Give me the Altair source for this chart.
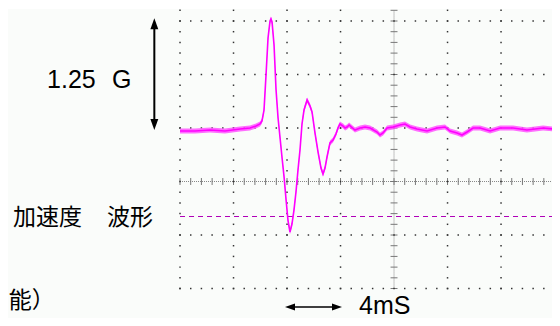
import altair as alt
import pandas as pd
import numpy as np

# ---- waveform: time (ms, trigger at 0) and amplitude (divisions) ----
t_ms = [-16.00, -14.88, -13.76, -12.64, -11.51, -10.77, -10.32, -10.02, -9.87, -9.72,
        -9.57, -9.42, -9.27, -9.20, -9.12, -8.97, -8.82, -8.67, -8.52, -8.37,
        -8.22, -8.07, -7.93, -7.78, -7.63, -7.48, -7.33, -7.18, -7.03, -6.88,
        -6.73, -6.50, -6.28, -6.13, -5.91, -5.68, -5.46, -5.31, -5.16, -5.01,
        -4.79, -4.56, -4.34, -4.19, -4.04, -3.81, -3.66, -3.51, -3.36, -2.92,
        -2.54, -2.17, -1.79, -1.27, -1.05, -0.82, -0.52, -0.07, 0.45, 0.82,
        1.20, 1.72, 2.47, 3.21, 3.81, 4.19, 4.71, 5.08, 5.46, 5.91,
        6.43, 7.18, 7.93, 8.90, 9.94, 11.14, 11.89, 12.41]
amp_div = [0.944, 0.944, 0.963, 0.944, 0.981, 1.000, 1.037, 1.075, 1.131, 1.336,
           1.991, 2.682, 3.000, 3.037, 2.981, 2.551, 1.710, 1.187, 0.813, 0.439,
           0.084, -0.346, -0.720, -0.944, -0.794, -0.533, -0.196, 0.215, 0.589, 1.075,
           1.336, 1.523, 1.411, 1.299, 0.907, 0.551, 0.252, 0.140, 0.252, 0.458,
           0.720, 0.776, 0.888, 1.000, 1.075, 1.037, 1.000, 1.019, 1.056, 0.963,
           1.000, 1.019, 1.000, 0.925, 0.869, 0.907, 1.000, 1.019, 1.056, 1.075,
           1.019, 0.981, 0.944, 1.000, 1.019, 0.944, 0.907, 0.869, 0.925, 1.000,
           1.000, 0.944, 1.000, 1.000, 0.963, 1.000, 0.981, 0.981]

# trigger level (dashed) in divisions
trigger_level = [-0.654]

# screen grid (divisions: 4 ms / div horizontally)
grid_t = [-16, -12, -8, -4, 4, 8, 12]
grid_v = [-2, -1, 1, 2, 3]
screen_t = [-16, 12.41]
screen_v = [-2.0, 3.2]

# annotations
vert_arrow_t = [-17.92]
vert_arrow_v = [0.963, 3.053]
horiz_arrow_v = [-2.346]
horiz_arrow_t = [-8.15, -3.89]

XD = [-28.86, 11.81]
YD = [-2.551, 3.243]
xs = alt.Scale(domain=XD, nice=False, zero=False)
ys = alt.Scale(domain=YD, nice=False, zero=False)


def X(f):
    return alt.X(f, type="quantitative", scale=xs, axis=None)


def Y(f):
    return alt.Y(f, type="quantitative", scale=ys, axis=None)


# background of the screen
bg = alt.Chart(pd.DataFrame({"x": [XD[0]], "x2": [XD[1]], "y": [YD[0]], "y2": [3.225]})).mark_rect(
    color="#fafcfa").encode(x=X("x"), x2="x2", y=Y("y"), y2="y2")

# grid dots
minor = 0.2
dots = []
vsteps = np.round(np.arange(screen_v[0], screen_v[1] + 1e-9, minor), 3)
for gt in grid_t:
    for v in vsteps:
        dots.append({"x": gt, "y": v})
tsteps = np.round(np.arange(screen_t[0], screen_t[1] + 1e-9, minor * 4), 3)
for gv in grid_v:
    for t in tsteps:
        dots.append({"x": t, "y": gv})
dot_layer = alt.Chart(pd.DataFrame(dots)).mark_square(size=2.2, color="#333", opacity=1).encode(
    x=X("x"), y=Y("y"))

# centre lines
center = pd.DataFrame([
    {"x": 0, "x2": 0, "y": screen_v[0], "y2": screen_v[1]},
    {"x": screen_t[0], "x2": screen_t[1], "y": 0, "y2": 0},
])
center_layer = alt.Chart(center).mark_rule(color="#888", strokeWidth=1, strokeDash=[1, 1]).encode(
    x=X("x"), x2="x2", y=Y("y"), y2="y2")

ticks = []
for v in vsteps:
    ticks.append({"x": -0.26, "x2": 0.26, "y": v, "y2": v})
for t in tsteps:
    ticks.append({"x": t, "x2": t, "y": -0.065, "y2": 0.065})
tick_layer = alt.Chart(pd.DataFrame(ticks)).mark_rule(color="#777", strokeWidth=1).encode(
    x=X("x"), x2="x2", y=Y("y"), y2="y2")

# trigger level dashed line
trig = alt.Chart(pd.DataFrame({"x": [screen_t[0]], "x2": [screen_t[1]], "y": trigger_level})).mark_rule(
    color="#b000b8", strokeWidth=1.2, strokeDash=[5, 4]).encode(x=X("x"), x2="x2", y=Y("y"))

# waveform
wave_df = pd.DataFrame({"t": t_ms, "v": amp_div})
band = alt.Chart(wave_df).transform_calculate(
    hi="datum.v + 0.045", lo="datum.v - 0.045").mark_area(color="#ff55ff", opacity=0.85).encode(
    x=X("t"), y=Y("hi"), y2="lo")
wave = alt.Chart(wave_df).mark_line(color="#ff00ff", strokeWidth=1.6).encode(x=X("t"), y=Y("v"))

# arrows
va = alt.Chart(pd.DataFrame({"x": vert_arrow_t, "y": [vert_arrow_v[0] + 0.08], "y2": [vert_arrow_v[1] - 0.08]})).mark_rule(
    color="black", strokeWidth=2).encode(x=X("x"), y=Y("y"), y2="y2")
va_up = alt.Chart(pd.DataFrame({"x": vert_arrow_t, "y": [vert_arrow_v[1] - 0.103]})).mark_point(
    shape="M0,-1L0.72,1L-0.72,1Z", filled=True, size=121, color="black", opacity=1).encode(x=X("x"), y=Y("y"))
va_dn = alt.Chart(pd.DataFrame({"x": vert_arrow_t, "y": [vert_arrow_v[0] + 0.103]})).mark_point(
    shape="M0,1L0.72,-1L-0.72,-1Z", filled=True, size=121, color="black", opacity=1).encode(x=X("x"), y=Y("y"))

ha = alt.Chart(pd.DataFrame({"x": [horiz_arrow_t[0] + 0.3], "x2": [horiz_arrow_t[1] - 0.3], "y": horiz_arrow_v})).mark_rule(
    color="black", strokeWidth=1.5).encode(x=X("x"), x2="x2", y=Y("y"))
ha_l = alt.Chart(pd.DataFrame({"x": [horiz_arrow_t[0] + 0.374], "y": horiz_arrow_v})).mark_point(
    shape="M-1,0L1,-0.7L1,0.7Z", filled=True, size=100, color="black", opacity=1).encode(x=X("x"), y=Y("y"))
ha_r = alt.Chart(pd.DataFrame({"x": [horiz_arrow_t[1] - 0.374], "y": horiz_arrow_v})).mark_point(
    shape="M1,0L-1,-0.7L-1,0.7Z", filled=True, size=100, color="black", opacity=1).encode(x=X("x"), y=Y("y"))

# texts
latin = pd.DataFrame({"x": [-25.94, -21.08, -2.62], "y": [1.748, 1.748, -2.477], "s": ["1.25", "G", "4mS"]})
latin_layer = alt.Chart(latin).mark_text(font="Liberation Sans", fontSize=25, align="left",
                                         baseline="alphabetic", color="black").encode(
    x=X("x"), y=Y("y"), text="s:N")
cjk = pd.DataFrame({"x": [-28.49, -21.46, -28.80], "y": [-0.682, -0.682, -2.234], "s": ["加速度", "波形", "能）"]})
cjk_layer = alt.Chart(cjk).mark_text(font="Noto Sans CJK JP", fontSize=23, align="left",
                                     baseline="middle", color="black").encode(
    x=X("x"), y=Y("y"), text="s:N")

chart = alt.layer(bg, center_layer, tick_layer, dot_layer, trig, band, wave,
                  va, va_up, va_dn, ha, ha_l, ha_r, latin_layer, cjk_layer).properties(
    width=544, height=310, padding=0, autosize=alt.AutoSizeParams(type="none"),
    background="white").configure_view(stroke=None)

chart.save("out.html", embed_options={"renderer": "svg", "actions": False})
